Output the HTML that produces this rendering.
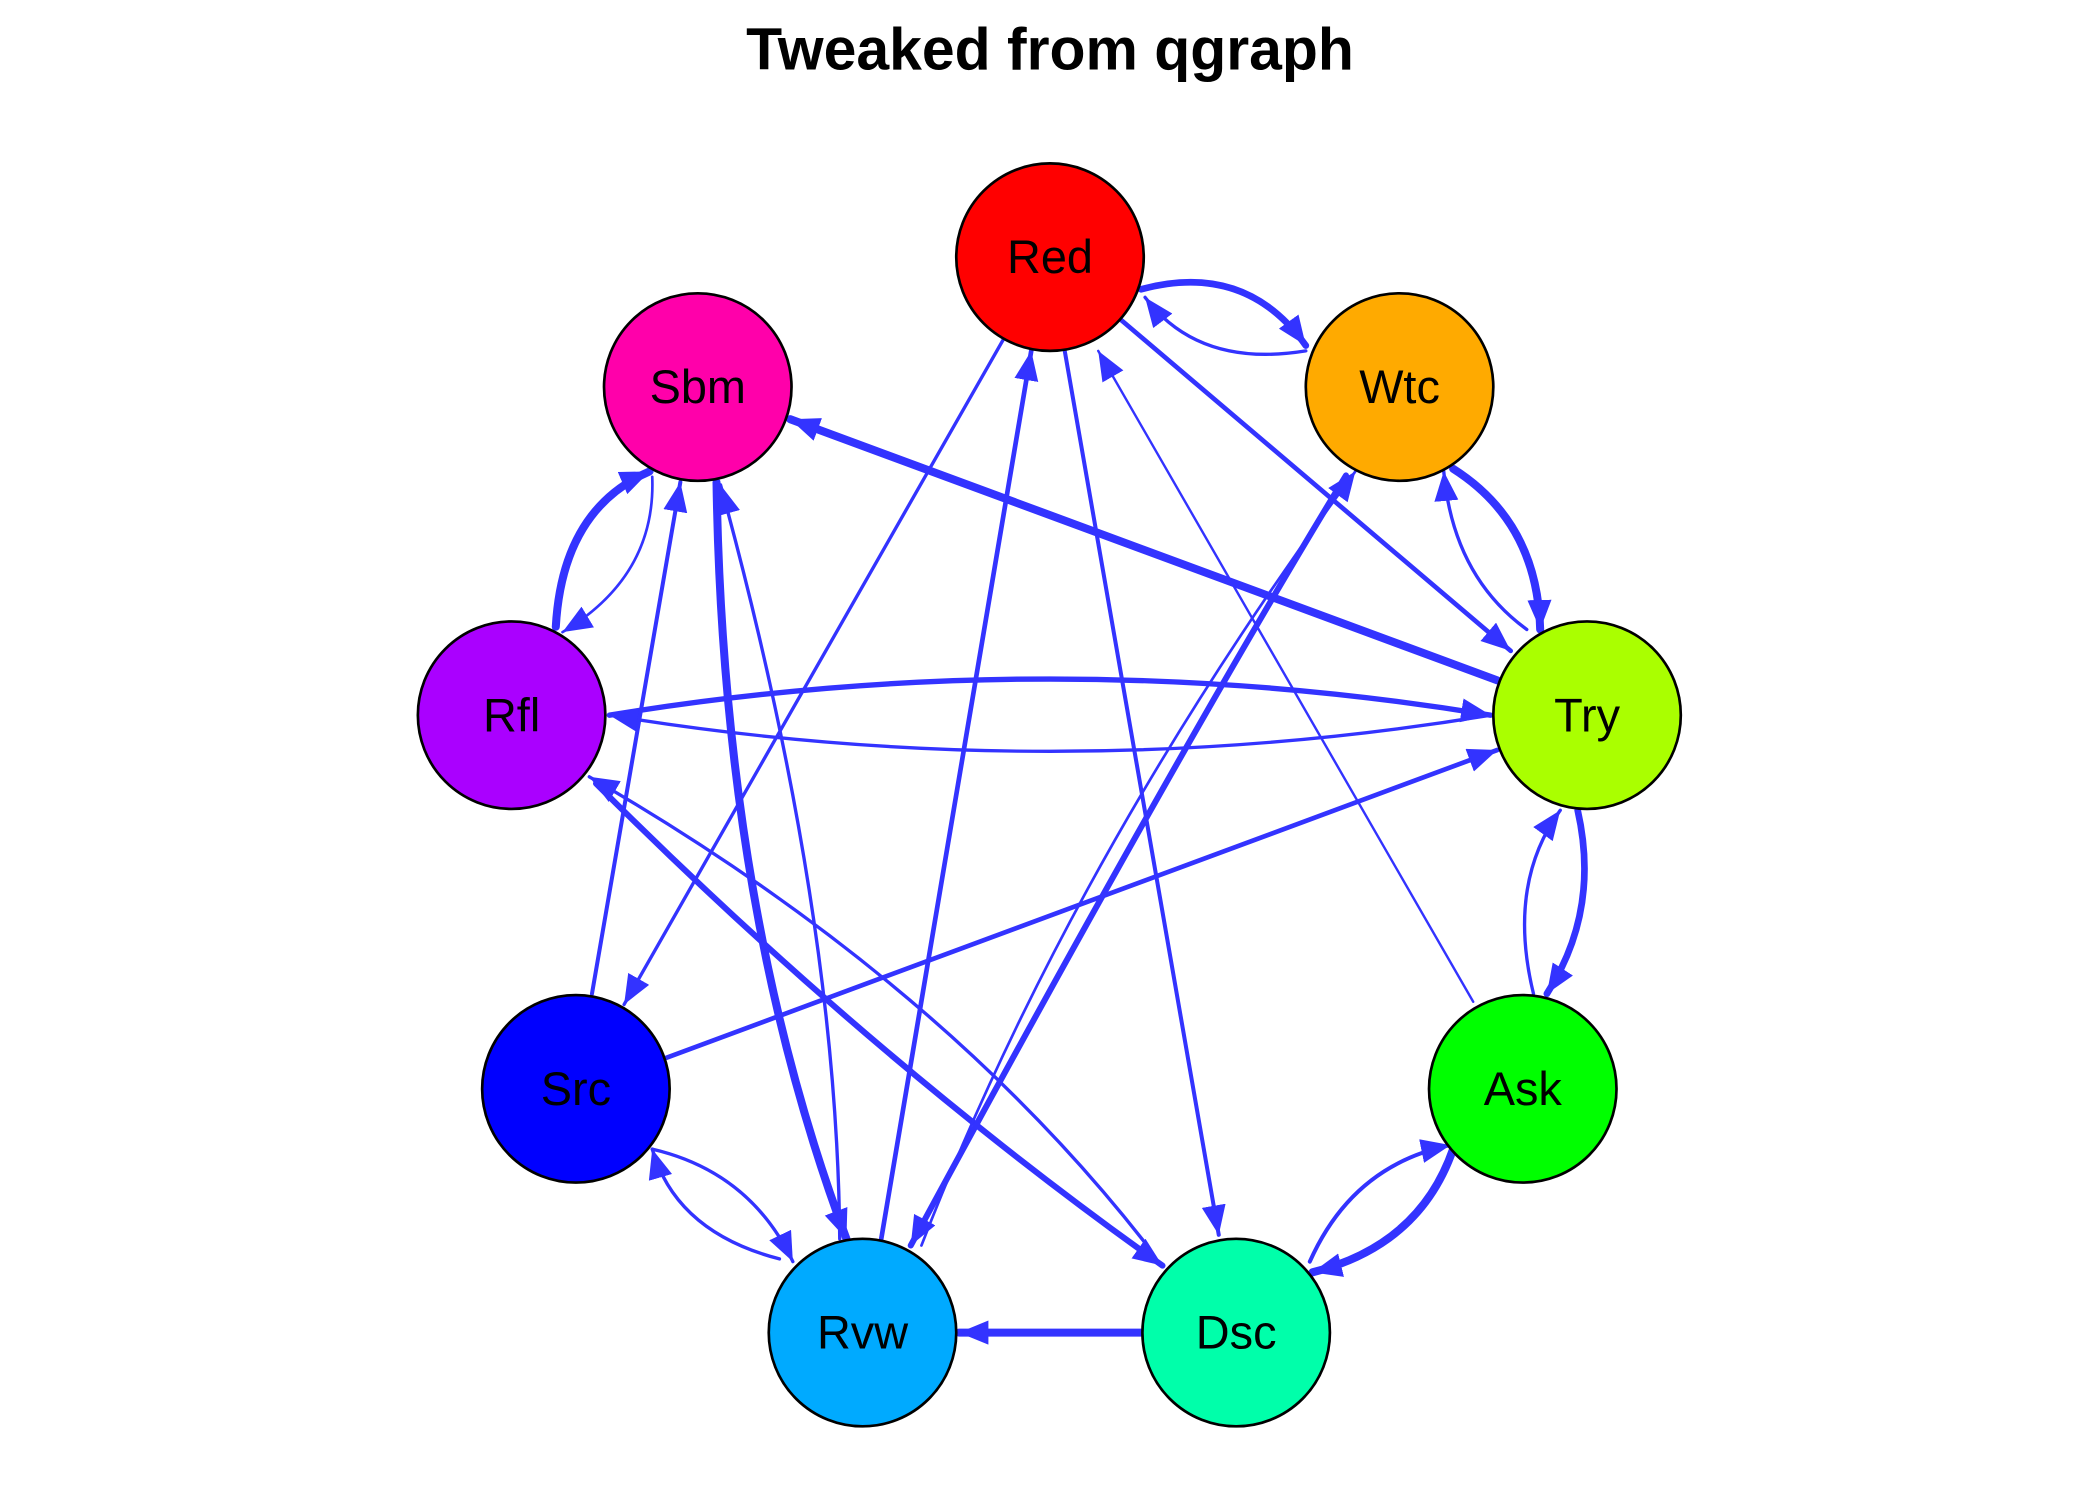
<!DOCTYPE html>
<html><head><meta charset="utf-8"><style>html,body{margin:0;padding:0;background:#fff}svg{display:block}</style></head>
<body>
<svg width="2100" height="1500" viewBox="0 0 1568 1120" preserveAspectRatio="none" xmlns="http://www.w3.org/2000/svg">
<defs>
<marker id="a" markerUnits="userSpaceOnUse" markerWidth="28" markerHeight="22" refX="22" refY="9" orient="auto"><path d="M0,0 L22,9 L0,18 z" fill="#3333ff"/></marker>
</defs>
<rect width="1568" height="1120" fill="#fff"/>
<text x="784" y="52" text-anchor="middle" font-family="Liberation Sans, sans-serif" font-weight="bold" font-size="44">Tweaked from qgraph</text>
<g fill="none" stroke="#3333ff" stroke-linecap="round">
<path d="M852,216 Q930,195 975,258" stroke-width="5" marker-end="url(#a)"/>
<path d="M975,262 Q895,275 855,222" stroke-width="2.5" marker-end="url(#a)"/>
<path d="M836,238 L1128,486" stroke-width="3.5" marker-end="url(#a)"/>
<path d="M750,252 L466,750" stroke-width="2.5" marker-end="url(#a)"/>
<path d="M795,262 L910,922" stroke-width="3" marker-end="url(#a)"/>
<path d="M1100,748 L820,262" stroke-width="1.8" marker-end="url(#a)"/>
<path d="M658,925 L770,262" stroke-width="3.5" marker-end="url(#a)"/>
<path d="M1118,508 L590,313" stroke-width="6" marker-end="url(#a)"/>
<path d="M1085,350 Q1148,390 1150,470" stroke-width="6" marker-end="url(#a)"/>
<path d="M1140,470 Q1085,430 1078,352" stroke-width="2.5" marker-end="url(#a)"/>
<path d="M455,534 Q784,480 1113,534" stroke-width="4" marker-end="url(#a)"/>
<path d="M1113,534 Q784,588 455,534" stroke-width="2.5" marker-end="url(#a)"/>
<path d="M497,790 L1118,560" stroke-width="3.5" marker-end="url(#a)"/>
<path d="M1178,605 Q1195,680 1155,742" stroke-width="5" marker-end="url(#a)"/>
<path d="M1145,742 Q1125,660 1165,605" stroke-width="2.5" marker-end="url(#a)"/>
<path d="M1085,858 Q1060,930 980,950" stroke-width="6" marker-end="url(#a)"/>
<path d="M978,942 Q1010,870 1083,855" stroke-width="3" marker-end="url(#a)"/>
<path d="M853,995 L716,995" stroke-width="6" marker-end="url(#a)"/>
<path d="M487,858 Q560,875 592,942" stroke-width="2.5" marker-end="url(#a)"/>
<path d="M582,940 Q505,920 487,858" stroke-width="2.5" marker-end="url(#a)"/>
<path d="M442,742 L508,360" stroke-width="3" marker-end="url(#a)"/>
<path d="M535,360 Q540,680 632,925" stroke-width="6" marker-end="url(#a)"/>
<path d="M627,925 Q625,680 538,362" stroke-width="2.5" marker-end="url(#a)"/>
<path d="M415,468 Q420,380 485,352" stroke-width="6" marker-end="url(#a)"/>
<path d="M487,356 Q490,430 420,472" stroke-width="2" marker-end="url(#a)"/>
<path d="M445,585 Q650,790 868,945" stroke-width="4.5" marker-end="url(#a)"/>
<path d="M855,928 Q700,730 440,580" stroke-width="2.5" marker-end="url(#a)"/>
<path d="M1005,355 Q880,560 680,930" stroke-width="4.5" marker-end="url(#a)"/>
<path d="M688,930 Q800,640 1012,352" stroke-width="2" marker-end="url(#a)"/>
</g>
<g stroke="#000" stroke-width="2">
<circle cx="784" cy="192" r="70" fill="#ff0000"/>
<circle cx="1045" cy="289" r="70" fill="#ffaa00"/>
<circle cx="1185" cy="534" r="70" fill="#aaff00"/>
<circle cx="1137" cy="813" r="70" fill="#00ff00"/>
<circle cx="923" cy="995" r="70" fill="#00ffaa"/>
<circle cx="644" cy="995" r="70" fill="#00aaff"/>
<circle cx="430" cy="813" r="70" fill="#0000ff"/>
<circle cx="382" cy="534" r="70" fill="#aa00ff"/>
<circle cx="521" cy="289" r="70" fill="#ff00aa"/>
</g>
<g font-family="Liberation Sans, sans-serif" font-size="35" text-anchor="middle" fill="#000">
<text x="784" y="204">Red</text>
<text x="1045" y="301">Wtc</text>
<text x="1185" y="546">Try</text>
<text x="1137" y="825">Ask</text>
<text x="923" y="1007">Dsc</text>
<text x="644" y="1007">Rvw</text>
<text x="430" y="825">Src</text>
<text x="382" y="546">Rfl</text>
<text x="521" y="301">Sbm</text>
</g>
</svg>
</body></html>
